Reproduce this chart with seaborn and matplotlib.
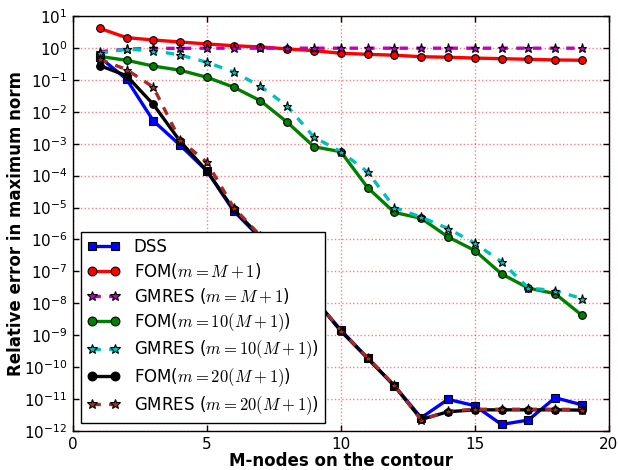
import numpy as np
import pandas as pd
import matplotlib
matplotlib.use("Agg")
import matplotlib.pyplot as plt
import seaborn as sns
from matplotlib.ticker import LogLocator, NullLocator

# Number of nodes on the contour
M = [1, 2, 3, 4, 5, 6, 7, 8, 9, 10, 11, 12, 13, 14, 15, 16, 17, 18, 19]

dss = [0.51, 0.105, 5.2e-3, 9.0e-4, 1.4e-4, 7.8e-6, 1.1e-6, 1.3e-7, 1.4e-8,
       1.45e-9, 1.9e-10, 2.6e-11, 2.6e-12, 9.8e-12, 6.2e-12, 1.6e-12, 2.2e-12,
       1.1e-11, 6.6e-12]
fom_1 = [4.1, 2.1, 1.77, 1.53, 1.33, 1.17, 1.07, 0.93, 0.82, 0.68, 0.63, 0.59,
         0.53, 0.51, 0.48, 0.46, 0.44, 0.42, 0.41]
gmres_1 = [0.76, 0.91, 0.97, 0.97, 0.98, 0.98, 0.98, 0.98, 0.98, 0.98, 0.98,
           0.98, 0.98, 0.98, 0.98, 0.98, 0.98, 0.98, 0.98]
fom_10 = [0.54, 0.41, 0.27, 0.20, 0.12, 0.059, 0.022, 4.7e-3, 8.0e-4, 5.6e-4,
          4.2e-5, 7.0e-6, 4.6e-6, 1.2e-6, 4.5e-7, 8.3e-8, 3.0e-8, 2.0e-8, 4.2e-9]
gmres_10 = [0.68, 0.91, 0.82, 0.60, 0.355, 0.176, 0.063, 0.015, 1.6e-3, 5.6e-4,
            1.3e-4, 1.0e-5, 5.0e-6, 2.2e-6, 7.6e-7, 2.0e-7, 3.0e-8, 2.5e-8, 1.4e-8]
fom_20 = [0.28, 0.135, 0.017, 1.2e-3, 1.4e-4, 8.7e-6, 1.2e-6, 1.3e-7, 1.4e-8,
          1.35e-9, 1.9e-10, 2.6e-11, 2.3e-12, 4.0e-12, 4.6e-12, 4.6e-12, 4.6e-12,
          4.6e-12, 4.5e-12]
gmres_20 = [0.44, 0.21, 0.059, 1.3e-3, 2.6e-4, 1.0e-5, 1.3e-6, 1.4e-7, 1.5e-8,
            1.4e-9, 2.0e-10, 2.7e-11, 2.2e-12, 4.2e-12, 4.8e-12, 4.8e-12, 4.8e-12,
            4.8e-12, 4.7e-12]

labels = [
    "DSS",
    r"FOM($m=M+1$)",
    r"GMRES ($m=M+1$)",
    r"FOM($m=10(M+1)$)",
    r"GMRES ($m=10(M+1)$)",
    r"FOM($m=20(M+1)$)",
    r"GMRES ($m=20(M+1)$)",
]
series = [dss, fom_1, gmres_1, fom_10, gmres_10, fom_20, gmres_20]

styles = [
    dict(color="b", marker="s", linestyle="-", markersize=5.5),
    dict(color="r", marker="o", linestyle="-", markersize=5.5),
    dict(color="m", marker="*", linestyle="--", markersize=6.5),
    dict(color="g", marker="o", linestyle="-", markersize=5.5),
    dict(color="c", marker="*", linestyle="--", markersize=6.5),
    dict(color="k", marker="o", linestyle="-", markersize=5.5),
    dict(color="brown", marker="*", linestyle="--", markersize=6.5),
]

sns.set_style("ticks")
plt.rcParams.update({
    "font.family": ["DejaVu Sans"],
    "mathtext.fontset": "dejavusans",
    "xtick.direction": "in",
    "ytick.direction": "in",
    "xtick.top": True,
    "ytick.right": True,
    "xtick.major.size": 4,
    "ytick.major.size": 4,
    "xtick.major.pad": 4,
    "ytick.major.pad": 4,
    "axes.edgecolor": "black",
    "axes.labelcolor": "black",
    "text.color": "black",
    "axes.linewidth": 1.0,
    "lines.scale_dashes": False,
    "lines.dashed_pattern": [6, 6],
})

fig = plt.figure(figsize=(6.18, 4.70), dpi=100)
ax = fig.add_axes([0.118, 0.083, 0.867, 0.883])

for vals, lab, st in zip(series, labels, styles):
    df = pd.DataFrame({"M": M, "err": vals})
    sns.lineplot(data=df, x="M", y="err", ax=ax, label=lab,
                 color=st["color"], marker=st["marker"],
                 linestyle=st["linestyle"], markersize=st["markersize"],
                 markeredgecolor="black", markeredgewidth=0.8,
                 linewidth=2.4, legend=False)

ax.set_yscale("log")
ax.set_xlim(0, 20)
ax.set_ylim(1e-12, 1e1)
ax.set_xticks([0, 5, 10, 15, 20])
ax.yaxis.set_major_locator(LogLocator(base=10, numticks=20))
ax.yaxis.set_minor_locator(NullLocator())
ax.tick_params(labelsize=11, colors="black", width=1)

ax.grid(True, color="red", linestyle=":", linewidth=1.0, alpha=0.5)

ax.set_xlabel("M-nodes on the contour", fontsize=12, fontweight="bold", labelpad=0)
ax.set_ylabel("Relative error in maximum norm", fontsize=12, fontweight="bold")
ax.yaxis.set_label_coords(-0.09, 0.5)

handles, labs = ax.get_legend_handles_labels()
leg = ax.legend(handles, labs, loc="lower left", numpoints=2, fontsize=12,
                fancybox=False, framealpha=1.0, edgecolor="black",
                borderaxespad=0.5, handlelength=2.0, handletextpad=0.8,
                labelspacing=0.3, borderpad=0.35, markerscale=1.15)
leg.get_frame().set_linewidth(1.0)
for t in leg.get_texts():
    t.set_math_fontfamily("cm")

fig.savefig("out.png", dpi=100)
